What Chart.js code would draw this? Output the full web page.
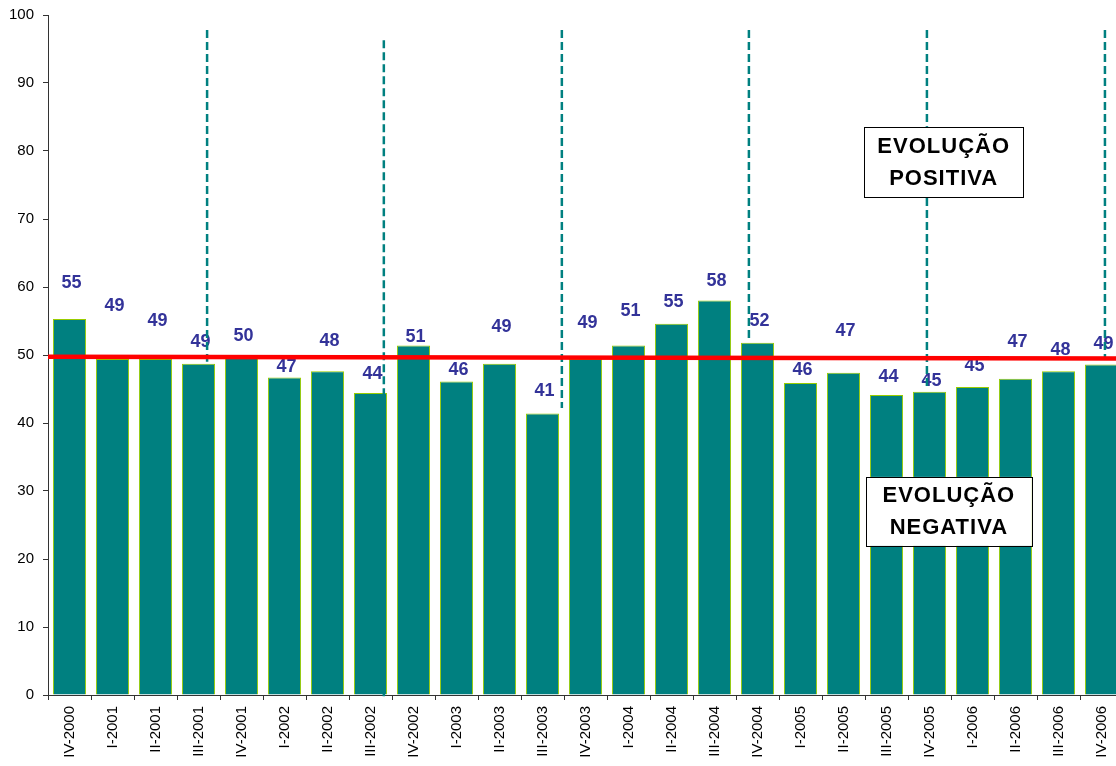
<!DOCTYPE html>
<html>
<head>
<meta charset="utf-8">
<script src="https://cdn.jsdelivr.net/npm/chart.js@4/dist/chart.umd.min.js"></script>
<style>
html,body{margin:0;padding:0;background:#fff;overflow:hidden;}
canvas{display:block;}
</style>
</head>
<body>
<canvas id="c" width="1123" height="766"></canvas>
<script>
const categories = ["IV-2000","I-2001","II-2001","III-2001","IV-2001","I-2002","II-2002","III-2002","IV-2002","I-2003","II-2003","III-2003","IV-2003","I-2004","II-2004","III-2004","IV-2004","I-2005","II-2005","III-2005","IV-2005","I-2006","II-2006","III-2006","IV-2006"];
const values = [55.3,49.4,49.4,48.7,49.8,46.7,47.6,44.4,51.4,46.1,48.7,41.4,49.4,51.4,54.6,58.0,51.8,45.9,47.4,44.1,44.6,45.3,46.5,47.6,48.6];
// where each value label sits (value-axis units), as placed in the original
const labelY = [60.6,57.2,55.0,51.9,52.8,48.2,52.1,47.2,52.6,47.8,54.1,44.7,54.7,56.5,57.8,60.9,55.0,47.8,53.5,46.8,46.2,48.4,51.9,50.7,51.6];
const yTicks = {min:0, max:100, step:10};
// reference (average) line: value at left and right end
const refLine = [49.75, 49.47];
// dashed vertical separators: category position, top value, bottom value
const sepX = [3.2, 7.31, 11.45, 15.8, 19.94, 24.08];
const sepTop = [97.8, 96.3, 97.8, 97.8, 97.8, 97.8];
const sepBottom = [49.0, -0.5, 42.2, 51.9, 44.9, 49.3];
const boxTexts = [["EVOLUÇÃO","POSITIVA"],["EVOLUÇÃO","NEGATIVA"]];

const FONT = "'Liberation Sans', Arial, sans-serif";

const datasets = [{
  type:'bar',
  data: values,
  backgroundColor:'#008080',
  borderColor:'#99CC00',
  borderWidth:1,
  barPercentage:0.77,
  categoryPercentage:1,
  grouped:false,
  order:3
},{
  type:'line',
  xAxisID:'xl',
  data:[{x:-0.5,y:refLine[0]},{x:24.5,y:refLine[1]}],
  borderColor:'#FF0000',
  borderWidth:4.5,
  pointRadius:0,
  order:1
}];
sepX.forEach((x,i)=>{
  datasets.push({
    type:'line',
    xAxisID:'xl',
    data:[{x:x,y:sepTop[i]},{x:x,y:sepBottom[i]}],
    borderColor:'#008080',
    borderWidth:2.5,
    borderDash:[8,4],
    pointRadius:0,
    clip:false,
    order:2
  });
});

const labelPlugin = {
  id:'labels',
  afterDatasetDraw(chart,args){
    if(args.index!==0) return;
    const ctx=chart.ctx, xs=chart.scales.x, ys=chart.scales.y;
    ctx.save();
    ctx.font="bold 18px "+FONT;
    ctx.fillStyle="#333399";
    ctx.textAlign="center";
    ctx.textBaseline="middle";
    values.forEach((v,i)=>{
      ctx.fillText(String(Math.round(v)), xs.getPixelForValue(i)+2, ys.getPixelForValue(labelY[i]));
    });
    ctx.restore();
  },
  afterDatasetsDraw(chart){
    const ctx=chart.ctx, xl=chart.scales.xl, ys=chart.scales.y;
    const boxes=[{x:20.33,y:78.4,w:159,h:70},{x:20.45,y:27.0,w:166,h:69}];
    ctx.save();
    boxes.forEach((b,i)=>{
      const cx=xl.getPixelForValue(b.x), cy=ys.getPixelForValue(b.y);
      ctx.fillStyle="#fff";
      ctx.fillRect(cx-b.w/2,cy-b.h/2,b.w,b.h);
      ctx.strokeStyle="#000";
      ctx.lineWidth=1;
      ctx.strokeRect(Math.round(cx-b.w/2)+0.5,Math.round(cy-b.h/2)+0.5,b.w,b.h);
      ctx.fillStyle="#000";
      ctx.font="bold 22px "+FONT;
      ctx.letterSpacing="1px";
      ctx.textAlign="center";
      ctx.textBaseline="middle";
      ctx.fillText(boxTexts[i][0],cx,cy-15);
      ctx.fillText(boxTexts[i][1],cx,cy+17);
    });
    ctx.restore();
  }
};

new Chart(document.getElementById('c'),{
  type:'bar',
  data:{labels:categories,datasets:datasets},
  options:{
    responsive:false,
    animation:false,
    layout:{padding:{top:15,left:0,right:0,bottom:0},autoPadding:false},
    plugins:{legend:{display:false},tooltip:{enabled:false}},
    scales:{
      x:{
        type:'category',
        offset:true,
        grid:{display:true,drawOnChartArea:false,offset:true,tickLength:5,color:'#333'},
        border:{display:true,color:'#333'},
        ticks:{minRotation:90,maxRotation:90,autoSkip:false,padding:6,color:'#000',font:{family:FONT,size:15}},
        afterFit(s){s.height=71;s.paddingLeft=0;s.paddingRight=0;}
      },
      xl:{
        type:'linear',
        display:false,
        offset:false,
        bounds:'data',
        min:-0.5,max:24.5
      },
      y:{
        min:yTicks.min,max:yTicks.max,
        ticks:{stepSize:yTicks.step,padding:9,color:'#000',font:{family:FONT,size:15}},
        grid:{display:true,drawOnChartArea:false,tickLength:5,color:'#333'},
        border:{display:true,color:'#333'},
        afterFit(s){s.width=48;s.paddingTop=0;s.paddingBottom=0;}
      }
    }
  },
  plugins:[labelPlugin]
});
</script>
</body>
</html>
